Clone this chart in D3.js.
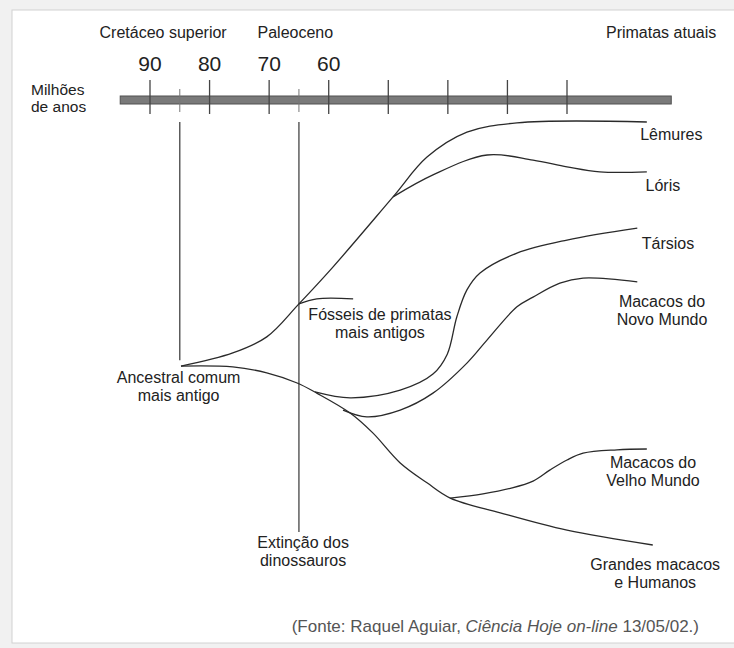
<!DOCTYPE html>
<html>
<head>
<meta charset="utf-8">
<script src="https://cdn.jsdelivr.net/npm/d3@7"></script>
<style>
  body { margin: 0; background: #f1f1f1; }
  text { font-family: "Liberation Sans", Arial, sans-serif; fill: #222; }
</style>
</head>
<body>
<div class="tree"></div>
<script>
let width = 734, height = 648;

// time axis (millions of years)
let tickYears = [90, 80, 70, 60, 50, 40, 30, 20];
let tickLabels = ["90", "80", "70", "60"];
let barYears = [95, 2.5];
let events = [
    {name: "Ancestral comum", year: 85, bottom: 56.3},
    {name: "Extinção dos dinossauros", year: 65, bottom: 96.9}
];

let periods = ["Cretáceo superior", "Paleoceno", "Primatas atuais"];
let periodYears = [87.8, 65.6, 4.2];

// branches: [million years, vertical position 0..100]
let stemUpper = [[84.8, 57.7], [76.1, 54.6], [70.4, 50.8], [65.0, 43.0], [59.3, 34.3], [49.2, 17.7], [43.5, 8.3], [36.8, 2.4], [28.4, 0.2], [6.6, 0]];
let loris = [[49.2, 17.7], [42.5, 12.5], [33.4, 7.8], [25.7, 9.0], [20.0, 10.6], [14.5, 11.8], [6.6, 11.8]];
let fosseis = [[65.0, 43.0], [62.0, 41.8], [55.9, 41.8]];
let stemLower = [[84.8, 57.7], [76.1, 57.9], [70.4, 59.3], [65.3, 61.7], [62.0, 64.1], [56.4, 68.8], [52.6, 73.5], [48.0, 80.6], [43.5, 85.3], [39.6, 88.9], [31.2, 92.4], [20.0, 96.5], [5.6, 100]];
let tarsios = [[62.3, 63.8], [56.4, 65.2], [48.0, 63.4], [42.5, 59.6], [40.1, 54.9], [38.5, 46.1], [36.8, 39.7], [34.6, 35.7], [28.4, 31.0], [20.0, 27.9], [8.2, 25.1]];
let novoMundo = [[57.6, 68.1], [53.6, 69.7], [48.0, 68.1], [42.5, 64.1], [36.8, 57.0], [33.4, 51.5], [28.4, 43.7], [25.7, 41.4], [21.2, 38.1], [17.3, 36.9], [8.2, 37.8]];
let velhoMundo = [[39.6, 88.9], [34.1, 87.9], [29.5, 86.6], [25.7, 84.9], [22.9, 82.3], [20.0, 79.9], [17.3, 78.3], [11.6, 77.5], [6.6, 77.3]];
let branches = [stemUpper, loris, fosseis, stemLower, tarsios, novoMundo, velhoMundo];

let tipLabels = [
    {lines: ["Lêmures"], year: 2.5, pos: 4.3},
    {lines: ["Lóris"], year: 3.9, pos: 16.3},
    {lines: ["Társios"], year: 3.05, pos: 30},
    {lines: ["Macacos do", "Novo Mundo"], year: 4.05, pos: 43.7},
    {lines: ["Fósseis de primatas", "mais antigos"], year: 51.4, pos: 46.8},
    {lines: ["Ancestral comum", "mais antigo"], year: 85.2, pos: 61.7},
    {lines: ["Macacos do", "Velho Mundo"], year: 5.56, pos: 81.8},
    {lines: ["Extinção dos", "dinossauros"], year: 64.3, pos: 100.7},
    {lines: ["Grandes macacos", "e Humanos"], year: 5.2, pos: 105.9}
];

let x = d3.scaleLinear().domain([90, 20]).range([150, 567]);
let y = d3.scaleLinear().domain([0, 100]).range([122, 545]);
let barY = 100;

let svg = d3.select(".tree").append("svg")
    .attr("width", width)
    .attr("height", height)
    .style("display", "block");

// page frame
svg.append("rect")
    .attr("x", 12).attr("y", 10)
    .attr("width", width).attr("height", 633)
    .attr("fill", "#fff")
    .attr("stroke", "#d2d2d2");

// period names
svg.selectAll(".period").data(periods).join("text")
    .attr("x", (d, i) => x(periodYears[i]))
    .attr("y", 38)
    .attr("text-anchor", "middle")
    .style("font-size", "16px")
    .text(d => d);

svg.selectAll(".tlabel").data(tickLabels).join("text")
    .attr("x", (d, i) => x(tickYears[i]))
    .attr("y", 71)
    .attr("text-anchor", "middle")
    .style("font-size", "21px")
    .text(d => d);

svg.append("text")
    .attr("y", 95)
    .style("font-size", "15.5px")
    .selectAll("tspan").data(["Milhões", "de anos"]).join("tspan")
    .attr("x", 31)
    .attr("dy", (d, i) => i ? 17 : 0)
    .text(d => d);

// bar
svg.append("rect")
    .attr("x", x(barYears[0]))
    .attr("y", barY - 4)
    .attr("width", x(barYears[1]) - x(barYears[0]))
    .attr("height", 8)
    .attr("fill", "#7a7a7a")
    .attr("stroke", "#505050");

svg.selectAll(".tick").data(tickYears).join("line")
    .attr("x1", d => x(d)).attr("x2", d => x(d))
    .attr("y1", barY - 20).attr("y2", barY + 14)
    .attr("stroke", "#444")
    .attr("stroke-width", 1.3);

// event markers
svg.selectAll(".emark").data(events).join("line")
    .attr("x1", d => x(d.year)).attr("x2", d => x(d.year))
    .attr("y1", barY - 11).attr("y2", barY + 12)
    .attr("stroke", "#777")
    .attr("stroke-width", 1);

svg.selectAll(".eline").data(events).join("line")
    .attr("x1", d => x(d.year)).attr("x2", d => x(d.year))
    .attr("y1", y(0)).attr("y2", d => y(d.bottom))
    .attr("stroke", "#444")
    .attr("stroke-width", 1.3);

// branches
let line = d3.line()
    .x(d => x(d[0]))
    .y(d => y(d[1]))
    .curve(d3.curveCatmullRom.alpha(0.5));

svg.selectAll(".branch").data(branches).join("path")
    .attr("d", line)
    .attr("fill", "none")
    .attr("stroke", "#2a2a2a")
    .attr("stroke-width", 1.3);

// labels
tipLabels.forEach(l => {
    svg.append("text")
        .attr("text-anchor", "middle")
        .attr("y", y(l.pos))
        .style("font-size", "16px")
        .selectAll("tspan").data(l.lines).join("tspan")
        .attr("x", x(l.year))
        .attr("dy", (d, i) => i ? 18 : 0)
        .text(d => d);
});

// source
let src = svg.append("text")
    .attr("x", 699).attr("y", 632)
    .attr("text-anchor", "end")
    .style("font-size", "17px")
    .style("fill", "#555");
src.append("tspan").style("fill", "#555").text("(Fonte: Raquel Aguiar, ");
src.append("tspan").style("fill", "#555").style("font-style", "italic").text("Ciência Hoje on-line");
src.append("tspan").style("fill", "#555").text(" 13/05/02.)");
</script>
</body>
</html>
